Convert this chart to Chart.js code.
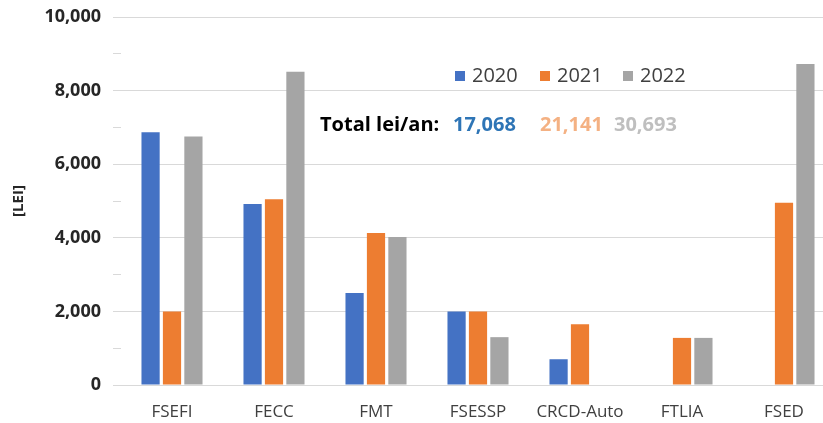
<!DOCTYPE html>
<html>
<head>
<meta charset="utf-8">
<script src="https://cdn.jsdelivr.net/npm/chart.js@4.4.1/dist/chart.umd.min.js"></script>
<style>
  html, body { margin: 0; padding: 0; background: #fff; overflow: hidden; }
  #wrap { width: 823px; height: 423px; overflow: hidden; }
</style>
</head>
<body>
<div id="wrap"><canvas id="chart" width="836" height="423"></canvas></div>
<script>
// data
const CATEGORIES  = ['FSEFI', 'FECC', 'FMT', 'FSESSP', 'CRCD-Auto', 'FTLIA', 'FSED'];
const YEARS       = ['2020', '2021', '2022'];
const VALUES_2020 = [6870, 4920, 2500, 2000, 700, null, null];
const VALUES_2021 = [2000, 5050, 4130, 2000, 1650, 1280, 4950];
const VALUES_2022 = [6750, 8510, 4020, 1300, null, 1280, 8720];
const TOTALS      = [17068, 21141, 30693];
const TOTAL_LABEL = 'Total lei/an:';
const Y_TITLE     = '[LEI]';

const BAR_COLORS   = ['#4472C4', '#ED7D31', '#A5A5A5'];
const TOTAL_COLORS = ['#2E75B6', '#F4B183', '#BFBFBF'];
const FONT = '"Open Sans", "DejaVu Sans", sans-serif';

const fmt = (v) => v.toLocaleString('en-US');

// legend + yearly totals drawn inside the plot area
const overlay = {
  id: 'overlay',
  afterDraw(chart) {
    const ctx = chart.ctx;
    ctx.save();
    ctx.textBaseline = 'middle';
    ctx.textAlign = 'left';

    // legend
    const lx = [455, 540, 623];
    const ly = 76;
    ctx.font = `20px ${FONT}`;
    chart.data.datasets.forEach((ds, i) => {
      ctx.fillStyle = ds.backgroundColor;
      ctx.fillRect(lx[i], ly - 5, 10, 10);
      ctx.fillStyle = '#404040';
      ctx.fillText(ds.label, lx[i] + 17, ly);
    });

    // totals row
    const ty = 125;
    ctx.font = `bold 20px ${FONT}`;
    ctx.fillStyle = '#000';
    ctx.fillText(TOTAL_LABEL, 320, ty);
    const tx = [453, 540, 614];
    TOTALS.forEach((t, i) => {
      ctx.fillStyle = TOTAL_COLORS[i];
      ctx.fillText(fmt(t), tx[i], ty);
    });
    ctx.restore();
  },
};

new Chart(document.getElementById('chart'), {
  type: 'bar',
  data: {
    labels: CATEGORIES,
    datasets: [VALUES_2020, VALUES_2021, VALUES_2022].map((vals, i) => ({
      label: YEARS[i],
      data: vals,
      backgroundColor: BAR_COLORS[i],
      borderWidth: 0,
      categoryPercentage: 0.63,
      barPercentage: 0.85,
    })),
  },
  options: {
    responsive: false,
    animation: false,
    devicePixelRatio: 1,
    layout: { padding: { top: 17, right: 1, left: 0, bottom: 0 } },
    plugins: {
      legend: { display: false },
      tooltip: { enabled: false },
    },
    scales: {
      x: {
        grid: { display: false },
        border: { display: false },
        ticks: {
          color: '#404040',
          font: { family: FONT, size: 17 },
          padding: 9,
          maxRotation: 0,
          autoSkip: false,
        },
        afterFit: (scale) => { scale.height = 38; },
      },
      y: {
        min: 0,
        max: 10000,
        border: { display: false },
        grid: {
          color: (c) => (c.tick && c.tick.value % 2000 === 0 ? '#D9D9D9' : 'rgba(0,0,0,0)'),
          tickColor: '#D9D9D9',
          tickLength: 8,
        },
        ticks: {
          stepSize: 1000,
          autoSkip: false,
          color: '#262626',
          font: { family: FONT, size: 18, weight: 'bold' },
          padding: 12,
          callback: (v) => (v % 2000 === 0 ? fmt(v) : ''),
        },
        title: {
          display: true,
          text: Y_TITLE,
          color: '#262626',
          font: { family: FONT, size: 15, weight: 'bold' },
          padding: { top: 10, bottom: 4 },
        },
        afterFit: (scale) => {
          scale.width = 121;
          scale.paddingTop = 0;
          scale.paddingBottom = 0;
        },
      },
    },
  },
  plugins: [overlay],
});
</script>
</body>
</html>
